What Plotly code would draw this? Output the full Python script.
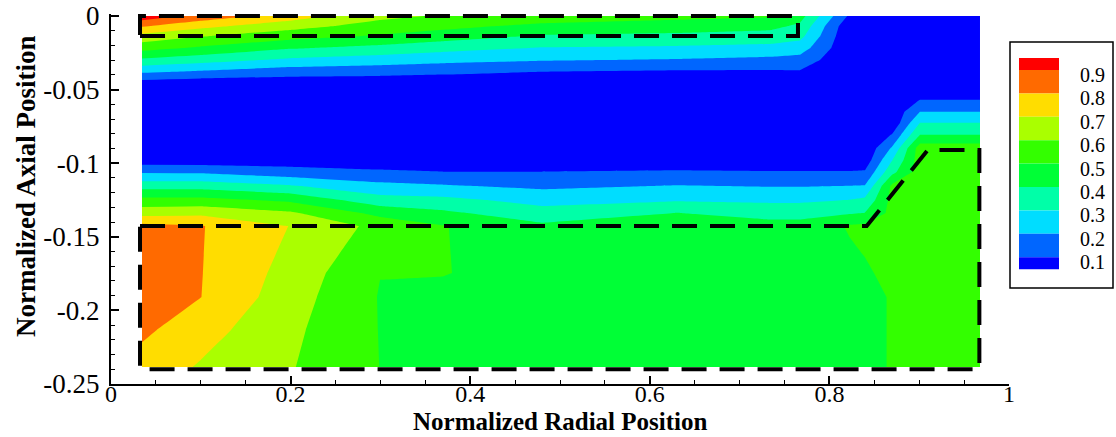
import plotly.graph_objects as go

# ---------------- data ----------------
# measurement grid: radial positions (x) and axial positions (y)
x_nodes = [0.0345, 0.1002, 0.1993, 0.2996, 0.3697, 0.4800, 0.6303, 0.7339,
           0.7673, 0.8229, 0.8396, 0.8697, 0.9009, 0.9677]
y_nodes = [0.0, -0.0068, -0.0136, -0.0217, -0.0299, -0.0380, -0.0462, -0.0571,
           -0.0652, -0.0727, -0.0808, -0.0897, -0.0978, -0.1060, -0.1155,
           -0.1250, -0.1338, -0.1427, -0.1746, -0.1909, -0.2133, -0.2385]

# normalized value at each node, one list per radial position (top -> bottom)
z_r0034 = [0.964, 0.812, 0.668, 0.537, 0.380, 0.212, 0.044, 0.02, 0.02, 0.02, 0.02,
           0.02, 0.04, 0.188, 0.36, 0.53, 0.66, 0.83, 0.86, 0.86, 0.82, 0.76]
z_r0100 = [0.865, 0.73, 0.608, 0.484, 0.34, 0.183, 0.03, 0.02, 0.02, 0.02, 0.02,
           0.02, 0.04, 0.185, 0.36, 0.53, 0.675, 0.805, 0.803, 0.801, 0.74, 0.69]
z_r0199 = [0.754, 0.64, 0.54, 0.41, 0.28, 0.145, 0.03, 0.02, 0.02, 0.02, 0.02,
           0.02, 0.05, 0.14, 0.31, 0.48, 0.615, 0.698, 0.665, 0.645, 0.622, 0.607]
z_r0300 = [0.627, 0.56, 0.49, 0.37, 0.25, 0.135, 0.03, 0.02, 0.02, 0.02, 0.02,
           0.02, 0.04, 0.115, 0.23, 0.34, 0.47, 0.57, 0.502, 0.495, 0.497, 0.499]
z_r0370 = [0.589, 0.53, 0.45, 0.335, 0.23, 0.12, 0.03, 0.02, 0.02, 0.02, 0.02,
           0.02, 0.04, 0.102, 0.21, 0.328, 0.42, 0.505, 0.505, 0.47, 0.46, 0.46]
z_r0480 = [0.567, 0.475, 0.39, 0.295, 0.207, 0.098, 0.03, 0.02, 0.02, 0.02, 0.02,
           0.02, 0.04, 0.102, 0.18, 0.265, 0.34, 0.42, 0.45, 0.45, 0.45, 0.45]
z_r0630 = [0.528, 0.454, 0.377, 0.285, 0.192, 0.085, 0.03, 0.02, 0.02, 0.02, 0.02,
           0.02, 0.04, 0.11, 0.205, 0.29, 0.401, 0.44, 0.45, 0.45, 0.45, 0.45]
z_r0734 = [0.51, 0.43, 0.36, 0.27, 0.175, 0.085, 0.03, 0.02, 0.02, 0.02, 0.02,
           0.02, 0.04, 0.105, 0.195, 0.28, 0.37, 0.43, 0.46, 0.46, 0.46, 0.46]
z_r0767 = [0.44, 0.38, 0.33, 0.25, 0.16, 0.09, 0.03, 0.02, 0.02, 0.02, 0.02,
           0.02, 0.04, 0.105, 0.195, 0.28, 0.37, 0.43, 0.46, 0.46, 0.46, 0.46]
z_r0823 = [0.08, 0.02, 0.01, 0.01, 0.01, 0.01, 0.01, 0.01, 0.01, 0.01, 0.01,
           0.01, 0.04, 0.105, 0.202, 0.302, 0.39, 0.51, 0.47, 0.47, 0.47, 0.47]
z_r0840 = [0.02, 0.02, 0.02, 0.02, 0.02, 0.02, 0.02, 0.02, 0.02, 0.02, 0.02,
           0.02, 0.04, 0.11, 0.205, 0.32, 0.402, 0.52, 0.49, 0.48, 0.48, 0.48]
z_r0870 = [0.02, 0.02, 0.02, 0.02, 0.02, 0.02, 0.02, 0.02, 0.02, 0.02, 0.105,
           0.21, 0.295, 0.37, 0.52, 0.53, 0.53, 0.53, 0.52, 0.505, 0.505, 0.505]
z_r0901 = [0.02, 0.02, 0.02, 0.02, 0.02, 0.02, 0.02, 0.102, 0.202, 0.302, 0.402,
           0.55, 0.55, 0.55, 0.55, 0.55, 0.55, 0.55, 0.55, 0.55, 0.55, 0.55]
z_r0968 = [0.02, 0.02, 0.02, 0.02, 0.02, 0.02, 0.02, 0.102, 0.202, 0.302, 0.402,
           0.55, 0.55, 0.55, 0.55, 0.55, 0.55, 0.55, 0.55, 0.55, 0.55, 0.55]

z_columns = [z_r0034, z_r0100, z_r0199, z_r0300, z_r0370, z_r0480, z_r0630,
             z_r0734, z_r0767, z_r0823, z_r0840, z_r0870, z_r0901, z_r0968]

# contour levels, legend labels and band colours (lowest band first)
levels = [0.1, 0.2, 0.3, 0.4, 0.5, 0.6, 0.7, 0.8, 0.9]
level_labels = ["0.1", "0.2", "0.3", "0.4", "0.5", "0.6", "0.7", "0.8", "0.9"]
band_colors = ["#0000FF", "#0066FF", "#00DDFF", "#00FFA8", "#00FF36",
               "#33FF00", "#AAFF00", "#FFDD00", "#FF6A00", "#FF0000"]

# dashed outline regions
upper_box_x = [0.0323, 0.765, 0.765, 0.0323, 0.0323]
upper_box_y = [-0.0136, -0.0136, 0.0, 0.0, -0.0136]
lower_box_x = [0.0323, 0.8415, 0.9095, 0.967, 0.967, 0.0323, 0.0323]
lower_box_y = [-0.1427, -0.1427, -0.0910, -0.0910, -0.2400, -0.2400, -0.1427]

# axis ticks and titles
x_tick_vals = [0, 0.2, 0.4, 0.6, 0.8, 1]
x_tick_text = ["0", "0.2", "0.4", "0.6", "0.8", "1"]
y_tick_vals = [0, -0.05, -0.1, -0.15, -0.2, -0.25]
y_tick_text = ["0", "-0.05", "-0.1", "-0.15", "-0.2", "-0.25"]
x_title = "Normalized Radial Position"
y_title = "Normalized Axial Position"

# ---------------- figure ----------------
z = [list(row) for row in zip(*z_columns)]
n_b = len(band_colors)
colorscale = [[i / (n_b - 1), c] for i, c in enumerate(band_colors)]

fig = go.Figure()
fig.add_trace(go.Contour(
    x=x_nodes, y=y_nodes, z=z,
    autocontour=False,
    contours=dict(start=levels[0], end=levels[-1], size=levels[1] - levels[0],
                  coloring="fill", showlines=False),
    colorscale=colorscale,
    line=dict(width=0, smoothing=0),
    showscale=False,
    hoverinfo="skip",
))

dash_style = dict(color="black", width=4, dash="25px,13px")
fig.add_trace(go.Scatter(x=upper_box_x, y=upper_box_y, mode="lines",
                         line=dash_style, hoverinfo="skip", showlegend=False))
fig.add_trace(go.Scatter(x=lower_box_x, y=lower_box_y, mode="lines",
                         line=dash_style, hoverinfo="skip", showlegend=False))

W, H = 1116, 437
PL, PR, PT, PB = 111, 1009, 14, 384
y_top = 0.25 * (384 - PT) / (384 - 16) - 0.25


def px_x(px):
    return (px - PL) / (PR - PL)


def px_y(py):
    return (PB - py) / (PB - PT)


serif = "Liberation Serif"
axis_common = dict(
    ticks="inside", ticklen=8, tickwidth=1.5, tickcolor="black",
    showline=True, linecolor="black", linewidth=2,
    showgrid=False, zeroline=False, tickmode="array",
)
fig.update_xaxes(
    range=[0, 1], tickvals=x_tick_vals, ticktext=x_tick_text,
    minor=dict(tickmode="array", tickvals=[i * 0.05 for i in range(21)],
               ticks="inside", ticklen=4, tickwidth=1, tickcolor="black"),
    ticklabelstandoff=-13,
    tickfont=dict(family=serif, size=24, color="black"),
    **axis_common)
fig.update_yaxes(
    range=[-0.25, y_top], tickvals=y_tick_vals, ticktext=y_tick_text,
    minor=dict(tickmode="array", tickvals=[-i * 0.01 for i in range(26)],
               ticks="inside", ticklen=4, tickwidth=1, tickcolor="black"),
    ticklabelstandoff=4,
    tickfont=dict(family=serif, size=27, color="black"),
    **axis_common)

annotations = [
    dict(text=x_title, xref="paper", yref="paper", x=px_x(560), y=px_y(437),
         xanchor="center", yanchor="bottom", showarrow=False,
         font=dict(family=serif, size=25, color="black", weight="bold")),
    dict(text=y_title, xref="paper", yref="paper", x=px_x(26), y=px_y(187),
         xanchor="center", yanchor="middle", showarrow=False, textangle=-90,
         font=dict(family=serif, size=27, color="black", weight="bold")),
]

# ---------------- legend box (colour key) ----------------
shapes = []
sw_x0, sw_x1 = 1019, 1059
top_edge = 58
half = 12
step = 23.4
bounds = [top_edge] + [top_edge + half + k * step for k in range(len(levels))]
bounds.append(bounds[-1] + half)
for i, c in enumerate(reversed(band_colors)):
    shapes.append(dict(type="rect", xref="paper", yref="paper",
                       x0=px_x(sw_x0), x1=px_x(sw_x1),
                       y0=px_y(bounds[i + 1]), y1=px_y(bounds[i]),
                       fillcolor=c, line=dict(width=0), layer="above"))
for k, lab in enumerate(reversed(level_labels)):
    annotations.append(dict(text=lab, xref="paper", yref="paper",
                            x=px_x(1078), y=px_y(bounds[k + 1] + 5),
                            xanchor="left", yanchor="middle", showarrow=False,
                            font=dict(family=serif, size=20, color="black")))
shapes.append(dict(type="rect", xref="paper", yref="paper",
                   x0=px_x(1010), x1=px_x(1113), y0=px_y(288),
                   y1=px_y(42), line=dict(color="black", width=1.5),
                   fillcolor="rgba(0,0,0,0)", layer="above"))

fig.update_layout(
    width=W, height=H,
    margin=dict(l=PL, r=W - PR, t=PT, b=H - PB, autoexpand=False),
    paper_bgcolor="white", plot_bgcolor="white",
    font=dict(family=serif, color="black"),
    showlegend=False,
    shapes=shapes, annotations=annotations,
)

fig.write_html("out.html")
